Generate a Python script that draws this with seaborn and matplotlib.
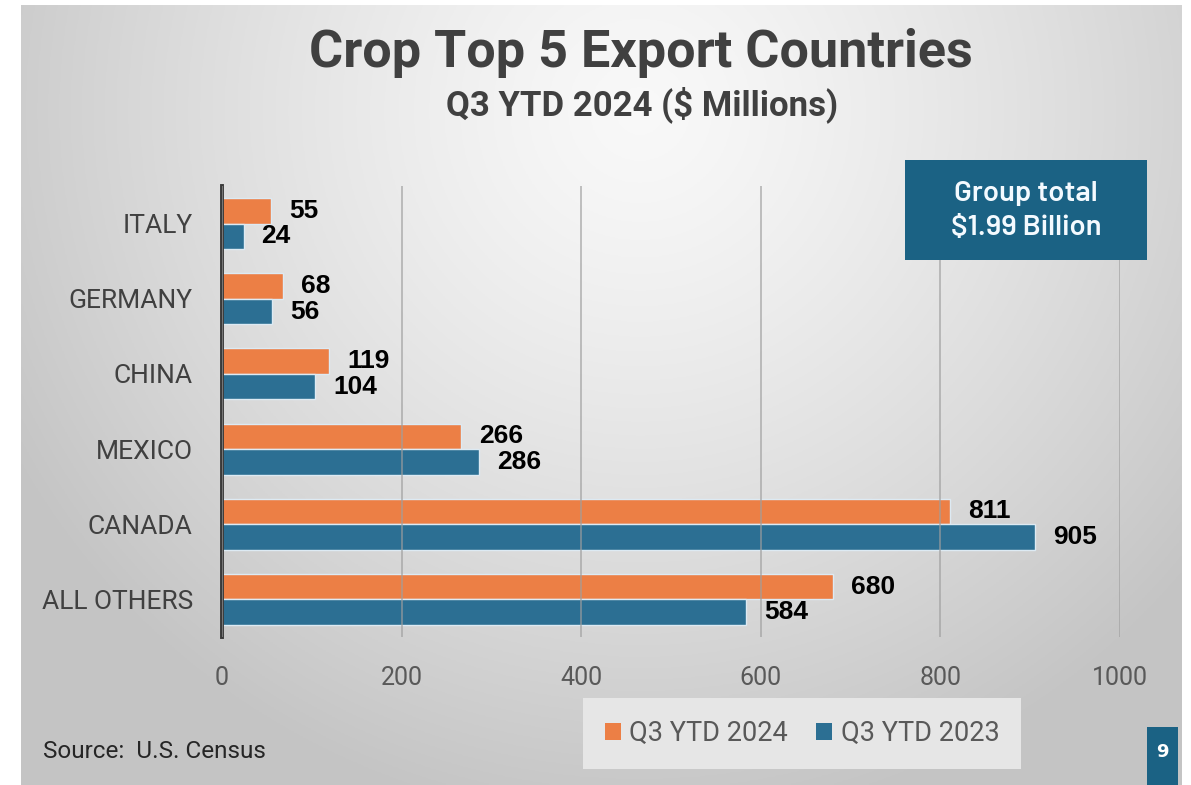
import numpy as np
import pandas as pd
import matplotlib
matplotlib.use("Agg")
import matplotlib.pyplot as plt
from matplotlib.patches import Rectangle, Patch
import seaborn as sns

# ---- data ----
countries = ["ITALY", "GERMANY", "CHINA", "MEXICO", "CANADA", "ALL OTHERS"]
series_names = ["Q3 YTD 2024", "Q3 YTD 2023"]
values_2024 = [55, 68, 119, 266, 811, 680]
values_2023 = [24, 56, 104, 286, 905, 584]
x_ticks = [0, 200, 400, 600, 800, 1000]

title = "Crop Top 5 Export Countries"
subtitle = "Q3 YTD 2024 ($ Millions)"
box_text = "Group total\n$1.99 Billion"
source_text = "Source:  U.S. Census"
page_no = "9"

ORANGE = "#EC7F45"
TEAL = "#2C6F93"
BOX = "#1B6284"

df = pd.DataFrame({
    "country": countries * 2,
    "value": values_2024 + values_2023,
    "series": [series_names[0]] * len(countries) + [series_names[1]] * len(countries),
})

sns.set_theme(style="white")
MAIN = ["Roboto", "Liberation Sans", "DejaVu Sans"]
ARIAL = ["Liberation Sans", "DejaVu Sans"]
plt.rcParams["font.family"] = MAIN

W, H = 1191, 785
fig = plt.figure(figsize=(W / 100, H / 100), dpi=100, facecolor="white")

# ---- gradient background (slide) ----
bg = fig.add_axes([21 / W, 0, (1182 - 21) / W, 780 / H], zorder=-10)
xs = np.linspace(21, 1182, 400)
ys = np.linspace(5, 785, 300)
XX, YY = np.meshgrid(xs, ys)
d = np.sqrt(((XX - 640) / 720) ** 2 + ((YY - 110) / 720) ** 2)
t = np.clip(d, 0, 1) ** 1.3
c0 = np.array([0.975, 0.975, 0.975])
c1 = np.array([0.77, 0.77, 0.77])
img = c0[None, None, :] * (1 - t[..., None]) + c1[None, None, :] * t[..., None]
bg.imshow(img, aspect="auto", extent=[0, 1, 0, 1], origin="upper")
bg.set_axis_off()

# ---- main axes ----
ax = fig.add_axes([222 / W, 1 - 637 / H, (1120 - 222) / W, (637 - 186) / H])
ax.set_facecolor("none")
sns.barplot(
    data=df, y="country", x="value", hue="series",
    order=countries, hue_order=series_names,
    palette=[ORANGE, TEAL], saturation=1, orient="h", width=0.68,
    edgecolor="#DDEAF3", linewidth=1.0, legend=False, ax=ax,
)
ax.set_xlim(0, 1000)
ax.set_ylim(len(countries) - 0.5, -0.5)
ax.set_xticks(x_ticks)
ax.set_xticklabels([str(v) for v in x_ticks])
ax.set_xlabel("")
ax.set_ylabel("")
ax.tick_params(axis="x", length=0, pad=21, labelsize=18, labelcolor="#595959")
ax.tick_params(axis="y", length=0, pad=21, labelsize=19, labelcolor="#404040")
for s in ["top", "right", "bottom"]:
    ax.spines[s].set_visible(False)
ax.spines["left"].set_color("#3A3A3A")
ax.spines["left"].set_linewidth(2.8)
ax.set_axisbelow(False)
ax.grid(axis="x", color="#9E9E9E", linewidth=1.1, alpha=0.8)
ax.grid(axis="y", visible=False)

for cont, vals in zip(ax.containers, [values_2024, values_2023]):
    ax.bar_label(cont, labels=[str(v) for v in vals], padding=13,
                 fontsize=19, fontweight="bold", color="black", family=ARIAL)

# ---- titles ----
fig.text(641 / W, 1 - 67 / H, title, ha="center", va="baseline",
         fontsize=37.5, fontweight="bold", color="#404040")
fig.text(642 / W, 1 - 115 / H, subtitle, ha="center", va="baseline",
         fontsize=25, fontweight="bold", color="#404040")

# ---- group total box ----
fig.patches.append(Rectangle((905 / W, 1 - 260 / H), 242 / W, 100 / H,
                             transform=fig.transFigure, facecolor=BOX,
                             edgecolor="none", zorder=5))
fig.text(1026 / W, 1 - 210 / H, box_text, ha="center", va="center",
         fontsize=21, fontweight="semibold", color="#F4FAFF", linespacing=1.45,
         family=["Barlow", "Barlow Semi Condensed", "Liberation Sans", "DejaVu Sans"], zorder=6)

# ---- page number ----
fig.patches.append(Rectangle((1147 / W, 0), 31 / W, 58 / H,
                             transform=fig.transFigure, facecolor=BOX,
                             edgecolor="none", zorder=5))
fig.text(1162.5 / W, 1 - 752 / H, page_no, ha="center", va="center",
         fontsize=13, fontweight="bold", color="white",
         family=["DejaVu Sans"], zorder=6)

# ---- source ----
fig.text(43 / W, 1 - 751 / H, source_text, ha="left", va="center",
         fontsize=17.5, color="#262626",
         family=["Roboto", "Liberation Sans", "DejaVu Sans"])

# ---- legend ----
handles = [Patch(facecolor=ORANGE, edgecolor="none"),
           Patch(facecolor=TEAL, edgecolor="none")]
leg = fig.legend(handles, series_names, loc="center",
                 bbox_to_anchor=(802 / W, 1 - 733.5 / H), ncol=2,
                 frameon=True, fontsize=19.5, handlelength=0.6, handleheight=0.6,
                 handletextpad=0.3, columnspacing=1.05, borderpad=0.8,
                 fancybox=False)
leg.get_frame().set_facecolor("#E6E6E6")
leg.get_frame().set_edgecolor("none")
leg.get_frame().set_alpha(1.0)
for tx in leg.get_texts():
    tx.set_color("#595959")

fig.savefig("out.png", dpi=100, facecolor="white")
